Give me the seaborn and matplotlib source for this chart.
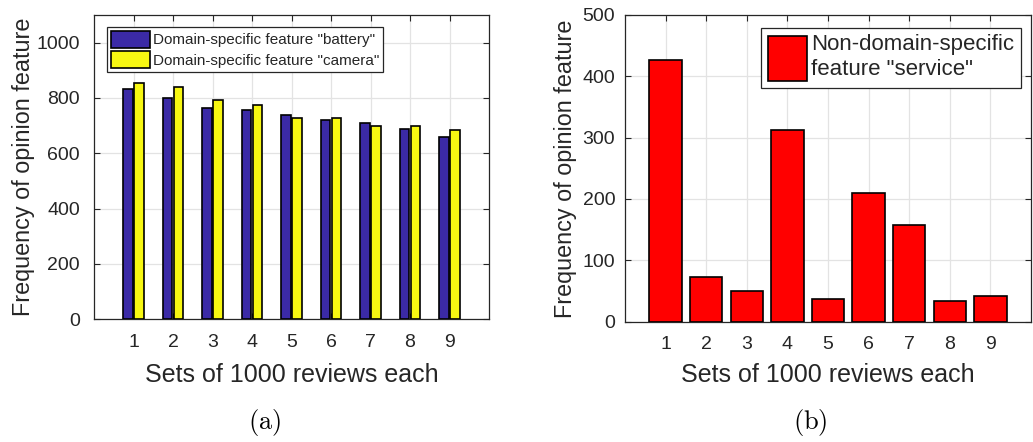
import numpy as np
import pandas as pd
import seaborn as sns
import matplotlib.pyplot as plt
from matplotlib.ticker import MultipleLocator

# Frequency of opinion features per set of 1000 reviews
sets = [1, 2, 3, 4, 5, 6, 7, 8, 9]
battery = [831, 801, 764, 757, 740, 722, 711, 687, 660]
camera = [855, 839, 793, 774, 729, 727, 700, 700, 683]
service = [426, 73, 50, 313, 37, 209, 157, 33, 42]

lbl_battery = 'Domain-specific feature "battery"'
lbl_camera = 'Domain-specific feature "camera"'
lbl_service = 'Non-domain-specific\nfeature "service"'

sns.set_theme(style="white")
plt.rcParams['font.family'] = ['Liberation Sans', 'DejaVu Sans']
plt.rcParams['mathtext.fontset'] = 'cm'

TXT = '#262626'
GRID = '#e3e3e3'

df_a = pd.DataFrame({
    'set': sets * 2,
    'freq': battery + camera,
    'feature': [lbl_battery] * len(sets) + [lbl_camera] * len(sets),
})
df_b = pd.DataFrame({'set': sets, 'freq': service, 'feature': [lbl_service] * len(sets)})

fig = plt.figure(figsize=(10.33, 4.42), dpi=100)
ax1 = fig.add_axes([0.091, 0.2776, 0.3824, 0.6885])
ax2 = fig.add_axes([0.605, 0.2722, 0.393, 0.694])

sns.barplot(data=df_a, x='set', y='freq', hue='feature', native_scale=True,
            palette={lbl_battery: '#3b2aa6', lbl_camera: '#f7f712'},
            saturation=1, width=0.56, gap=0.12, edgecolor='black', linewidth=1.2,
            errorbar=None, ax=ax1, zorder=3)
sns.barplot(data=df_b, x='set', y='freq', hue='feature', native_scale=True,
            palette={lbl_service: '#ff0000'}, saturation=1,
            width=0.8, edgecolor='black', linewidth=1.2,
            errorbar=None, ax=ax2, zorder=3)

for ax, ymax, ystep in [(ax1, 1100, 200), (ax2, 500, 100)]:
    ax.set_xlim(0, 10)
    ax.set_ylim(0, ymax)
    ax.set_xticks(sets)
    ax.set_xticklabels([str(s) for s in sets])
    ax.yaxis.set_major_locator(MultipleLocator(ystep))
    ax.set_axisbelow(True)
    ax.grid(True, color=GRID, linewidth=0.9)
    for sp in ax.spines.values():
        sp.set_visible(True)
        sp.set_color(TXT)
        sp.set_linewidth(0.9)
    ax.tick_params(direction='in', length=4, width=0.8, color=TXT,
                   top=True, right=True, bottom=True, left=True,
                   labelsize=14, labelcolor=TXT)
    ax.set_xlabel('Sets of 1000 reviews each', fontsize=18, color=TXT)
    ax.set_ylabel('Frequency of opinion feature', fontsize=16.8, color=TXT)

ax1.tick_params(axis='x', pad=10.5)
ax1.tick_params(axis='y', pad=10)
ax2.tick_params(axis='x', pad=10.5)
ax2.tick_params(axis='y', pad=7)
ax1.xaxis.set_label_coords(0.5, -0.145)
ax2.xaxis.set_label_coords(0.5, -0.136)
ax1.yaxis.set_label_coords(-0.149, 0.5)
ax2.yaxis.set_label_coords(-0.118, 0.5)

h1, l1 = ax1.get_legend_handles_labels()
ax1.legend(h1, l1, loc='upper left', bbox_to_anchor=(0.033, 0.961),
           borderaxespad=0, fontsize=11, frameon=True, fancybox=False,
           framealpha=1, edgecolor=TXT, handlelength=2.55, handleheight=1.35,
           handletextpad=0.2, borderpad=0.25, labelspacing=0.2)
h2, l2 = ax2.get_legend_handles_labels()
ax2.legend(h2, l2, loc='upper right', bbox_to_anchor=(0.975, 0.958),
           borderaxespad=0, fontsize=16, frameon=True, fancybox=False,
           framealpha=1, edgecolor=TXT, handlelength=1.76, handleheight=2.8,
           handletextpad=0.18, borderpad=0.3)
for leg in (ax1.get_legend(), ax2.get_legend()):
    leg.get_frame().set_linewidth(0.9)

fig.text(265 / 1033, 1 - 422 / 442, r'$\mathrm{(a)}$', ha='center', va='center', fontsize=19, color='black')
fig.text(810 / 1033, 1 - 422 / 442, r'$\mathrm{(b)}$', ha='center', va='center', fontsize=19, color='black')

fig.savefig('out.png', dpi=100)
